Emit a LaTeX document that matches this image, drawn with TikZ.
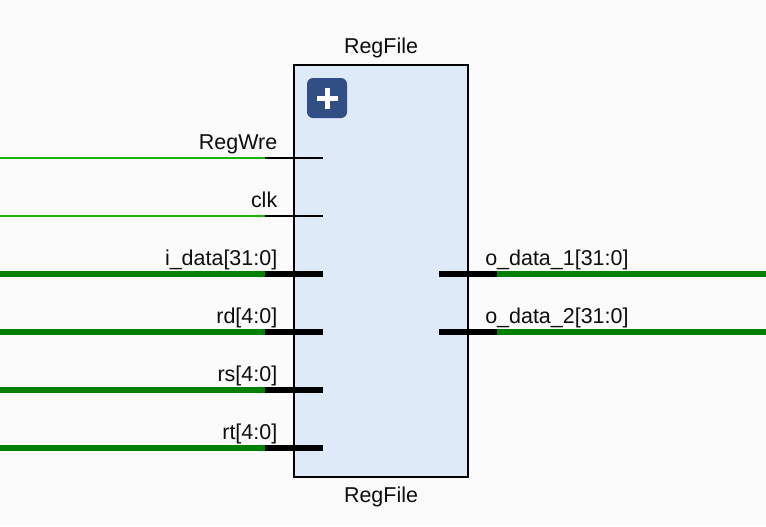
\documentclass[tikz,border=0pt]{standalone}
\usepackage{fontspec}
\setmainfont{Liberation Sans}
\definecolor{bgc}{HTML}{FBFBFB}
\definecolor{boxc}{HTML}{DFEAF9}
\definecolor{thinw}{HTML}{1FB00A}
\definecolor{thickw}{HTML}{008000}
\definecolor{iconc}{HTML}{324F85}
\tikzset{
  thinwire/.style={thinw,line width=1.5pt},
  thickwire/.style={thickw,line width=4.5pt},
  thinstub/.style={black,line width=1.5pt},
  thickstub/.style={black,line width=4.5pt},
  lbl/.style={font=\fontsize{16.1}{18}\selectfont,text=black!95,inner sep=0pt},
  lbll/.style={lbl,anchor=base east},
  lblr/.style={lbl,anchor=base west},
}
\begin{document}
\begin{tikzpicture}[x=0.75pt,y=-0.75pt]
\useasboundingbox[fill=bgc] (0,0) rectangle (766,526);
\node[draw=black,fill=boxc,line width=1.5pt,minimum width=130.5pt,minimum height=309pt,inner sep=0pt,anchor=north west] (box) at (293,64) {};
\node[lbl,anchor=base] (t) at (381,53) {RegFile};
\node[lbl,anchor=base] (b) at (381,502) {RegFile};
\node[fill=iconc,rounded corners=4.5pt,minimum size=30pt,inner sep=0pt] (icon) at (327,98) {};
\fill[white] (icon.center) ++(-10.5,-2.5) rectangle ++(21,5);
\fill[white] (icon.center) ++(-2.5,-10.5) rectangle ++(5,21);
% left ports
\foreach \n/\y/\s/\txt in {a/158/thin/RegWre,b/216/thin/clk,c/274/thick/i\_data[31:0],d/332/thick/rd[4:0],e/390/thick/rs[4:0],f/448/thick/rt[4:0]}{
  \coordinate (w\n) at (0,\y);
  \coordinate (j\n) at (265,\y);
  \coordinate (p\n) at (323,\y);
  \draw[\s wire] (w\n) -- (j\n);
  \draw[\s stub] (j\n) -- (p\n);
  \node[lbll] (l\n) at (277.5,\y-9) {\txt};
}
% right ports
\foreach \n/\y/\txt in {g/274/o\_data\_1[31:0],h/332/o\_data\_2[31:0]}{
  \coordinate (p\n) at (439,\y);
  \coordinate (j\n) at (497,\y);
  \coordinate (w\n) at (766,\y);
  \draw[thickstub] (p\n) -- (j\n);
  \draw[thickwire] (j\n) -- (w\n);
  \node[lblr] (l\n) at (485,\y-9) {\txt};
}
\end{tikzpicture}
\end{document}
